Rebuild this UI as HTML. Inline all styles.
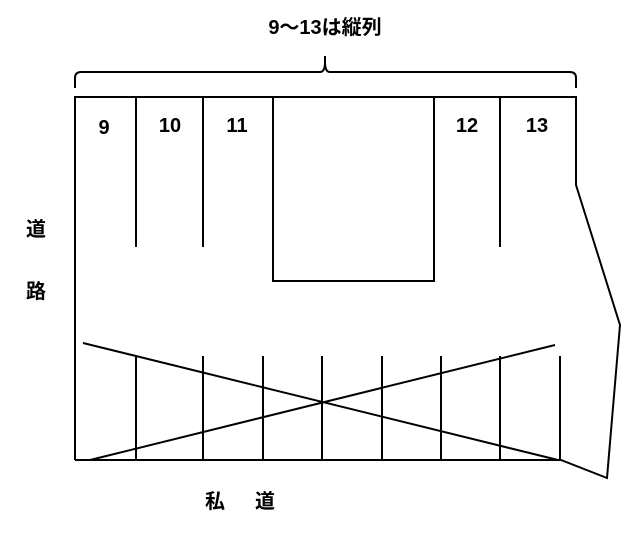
<!DOCTYPE html>
<html><head><meta charset="utf-8"><style>body{margin:0;background:#fff}svg{display:block}text{font-family:"Liberation Sans","Noto Sans CJK JP",sans-serif;font-weight:bold;fill:#000}</style></head>
<body>
<svg width="635" height="537" viewBox="0 0 635 537" xmlns="http://www.w3.org/2000/svg">
<g stroke="#000" stroke-width="2" fill="none">
<path d="M75,88 V78 Q75,72 81,72 H320 Q325,72 325,62 V56 M325,62 Q325,72 330,72 H570 Q576,72 576,78 V88"/>
<path d="M75,460 V97 H576 V185 L620,325 L607,478 L561,460 H75"/>
<path d="M136,97V247 M203,97V247 M500,97V247 M273,97V281H434V97"/>
<path d="M136,356V460 M203,356V460 M263,356V460 M322,356V460 M382,356V460 M441,356V460 M500,356V460 M560,356V460"/>
<path d="M83,343 L558,460 M90,460 L555,345"/>
</g>
<g font-size="20" text-anchor="middle">
<text x="325" y="34">9～13は縦列</text>
<text x="104" y="134">9</text>
<text x="170" y="132">10</text>
<text x="237" y="132">11</text>
<text x="467" y="132">12</text>
<text x="537" y="132">13</text>
<text x="36" y="236">道</text>
<text x="36" y="298">路</text>
<text x="215" y="508">私</text>
<text x="265" y="508">道</text>
</g>
</svg>
</body></html>
